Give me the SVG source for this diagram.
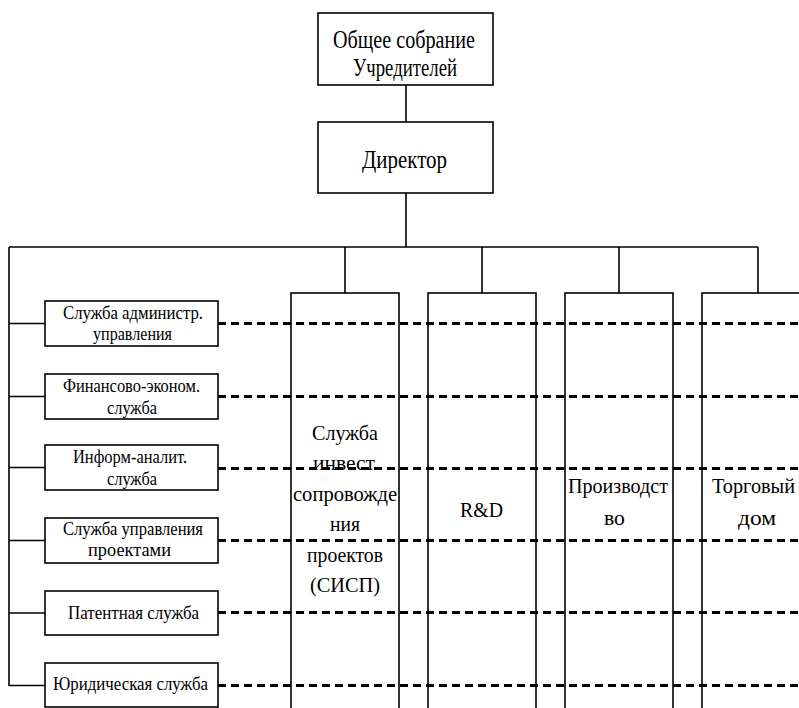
<svg xmlns="http://www.w3.org/2000/svg" width="799" height="708" viewBox="0 0 799 708">
<style>
.box{fill:#fff;stroke:#000;stroke-width:1.6}
.t{font-family:'Liberation Serif','Times New Roman',serif;fill:#000;text-anchor:middle}
.big{font-size:25px}
.mid{font-size:21px}
.sm{font-size:18px}
.ln{stroke:#000;stroke-width:1.6;fill:none}
.dash{stroke:#000;stroke-width:3;stroke-dasharray:8 5;fill:none}
</style>
<rect width="799" height="708" fill="#fff"/>
<g id="founders">
<rect class="box" x="318" y="13" width="175" height="72"/>
<text class="t big" x="404" y="48" textLength="142" lengthAdjust="spacingAndGlyphs">Общее собрание</text>
<text class="t big" x="405" y="76" textLength="104" lengthAdjust="spacingAndGlyphs">Учредителей</text>
</g>
<g id="director">
<rect class="box" x="318" y="122" width="175" height="71"/>
<text class="t big" x="404.5" y="168" textLength="85" lengthAdjust="spacingAndGlyphs">Директор</text>
</g>
<g id="admin">
<rect class="box" x="45" y="301" width="173" height="45"/>
<text class="t sm" x="133" y="319" textLength="140" lengthAdjust="spacingAndGlyphs">Служба администр.</text>
<text class="t sm" x="132.5" y="340" textLength="79" lengthAdjust="spacingAndGlyphs">управления</text>
</g>
<g id="finance">
<rect class="box" x="45" y="374" width="173" height="45"/>
<text class="t sm" x="131.5" y="392" textLength="137" lengthAdjust="spacingAndGlyphs">Финансово-эконом.</text>
<text class="t sm" x="132" y="414" textLength="50" lengthAdjust="spacingAndGlyphs">служба</text>
</g>
<g id="inform">
<rect class="box" x="45" y="445" width="173" height="45"/>
<text class="t sm" x="130" y="463" textLength="114" lengthAdjust="spacingAndGlyphs">Информ-аналит.</text>
<text class="t sm" x="132" y="485" textLength="50" lengthAdjust="spacingAndGlyphs">служба</text>
</g>
<g id="projects">
<rect class="box" x="45" y="518" width="173" height="45"/>
<text class="t sm" x="133" y="535" textLength="140" lengthAdjust="spacingAndGlyphs">Служба управления</text>
<text class="t sm" x="129.5" y="556" textLength="83" lengthAdjust="spacingAndGlyphs">проектами</text>
</g>
<g id="patent">
<rect class="box" x="45" y="591" width="173" height="44"/>
<text class="t sm" x="133.5" y="619" textLength="131" lengthAdjust="spacingAndGlyphs">Патентная служба</text>
</g>
<g id="legal">
<rect class="box" x="45" y="663" width="173" height="44"/>
<text class="t sm" x="130.5" y="690" textLength="155" lengthAdjust="spacingAndGlyphs">Юридическая служба</text>
</g>
<g id="sisp">
<rect class="box" x="291" y="293" width="108" height="430"/>
<text class="t mid" x="345" y="440" textLength="66" lengthAdjust="spacingAndGlyphs">Служба</text>
<text class="t mid" x="344" y="470" textLength="62" lengthAdjust="spacingAndGlyphs">инвест</text>
<text class="t mid" x="345" y="501" textLength="104" lengthAdjust="spacingAndGlyphs">сопровожде</text>
<text class="t mid" x="345" y="531" textLength="30" lengthAdjust="spacingAndGlyphs">ния</text>
<text class="t mid" x="345" y="562" textLength="76" lengthAdjust="spacingAndGlyphs">проектов</text>
<text class="t mid" x="345" y="592" textLength="70" lengthAdjust="spacingAndGlyphs">(СИСП)</text>
</g>
<g id="rnd">
<rect class="box" x="428" y="293" width="108" height="430"/>
<text class="t mid" x="481.5" y="517" textLength="43" lengthAdjust="spacingAndGlyphs">R&amp;D</text>
</g>
<g id="production">
<rect class="box" x="565" y="293" width="108" height="430"/>
<text class="t mid" x="618" y="493" textLength="100" lengthAdjust="spacingAndGlyphs">Производст</text>
<text class="t mid" x="614.5" y="525" textLength="21" lengthAdjust="spacingAndGlyphs">во</text>
</g>
<g id="trade">
<rect class="box" x="702" y="293" width="108" height="430"/>
<text class="t mid" x="753.5" y="493" textLength="83" lengthAdjust="spacingAndGlyphs">Торговый</text>
<text class="t mid" x="757" y="525" textLength="38" lengthAdjust="spacingAndGlyphs">дом</text>
</g>
<g id="connectors">
<path class="ln" d="M406 85V122M406 193V247M9 247H758M9 247V686M9 323.5H45M9 396.5H45M9 467.5H45M9 540.5H45M9 613H45M9 685.5H45M345 247V293M482 247V293M619 247V293M758 247V293"/>
<path class="dash" d="M218 323.5H799M218 396.5H799M218 468.5H799M218 540.5H799M218 612.5H799M218 685.5H799"/>
</g>
</svg>
